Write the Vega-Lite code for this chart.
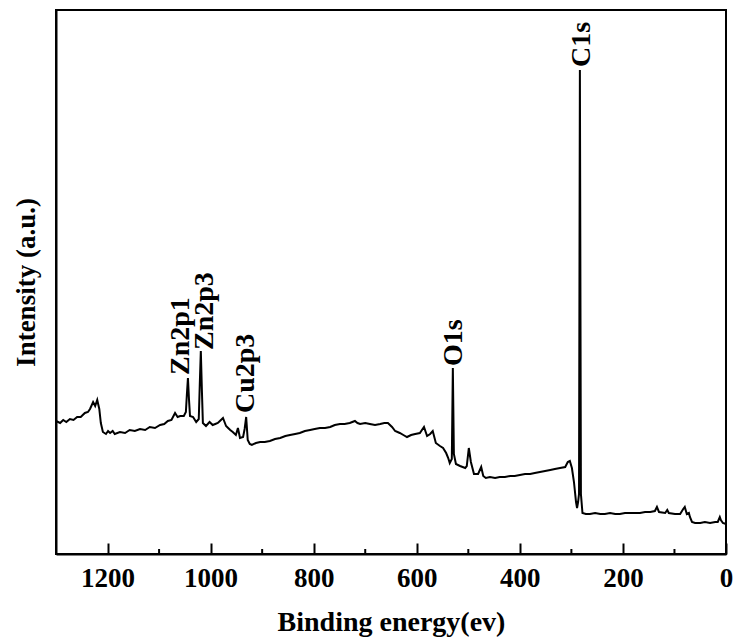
{
  "$schema": "https://vega.github.io/schema/vega-lite/v6.json",
  "width": 670,
  "height": 544,
  "autosize": "none",
  "padding": {"left": 56, "top": 10, "right": 8, "bottom": 86},
  "config": {
    "view": {"stroke": "black", "strokeWidth": 2},
    "axis": {"domainColor": "black", "domainWidth": 2, "tickColor": "black", "tickWidth": 2, "grid": false,
      "labelFont": "Liberation Serif", "labelFontWeight": "bold", "labelColor": "black",
      "titleFont": "Liberation Serif", "titleFontWeight": "bold", "titleColor": "black"}
  },
  "datasets": {
    "spectrum": [
      {"be": 1300, "i": 133}, {"be": 1292, "i": 131}, {"be": 1286, "i": 134}, {"be": 1280, "i": 132}, {"be": 1273, "i": 135},
      {"be": 1266, "i": 134}, {"be": 1259, "i": 137}, {"be": 1252, "i": 137}, {"be": 1244, "i": 141}, {"be": 1238, "i": 142},
      {"be": 1234, "i": 145}, {"be": 1228, "i": 152}, {"be": 1224, "i": 148}, {"be": 1220, "i": 154}, {"be": 1216, "i": 145},
      {"be": 1213, "i": 131}, {"be": 1209, "i": 122}, {"be": 1203, "i": 120}, {"be": 1199, "i": 123}, {"be": 1195, "i": 121},
      {"be": 1190, "i": 123}, {"be": 1186, "i": 120}, {"be": 1176, "i": 122}, {"be": 1166, "i": 121}, {"be": 1157, "i": 124},
      {"be": 1147, "i": 123}, {"be": 1137, "i": 125}, {"be": 1127, "i": 124}, {"be": 1118, "i": 127}, {"be": 1108, "i": 126},
      {"be": 1098, "i": 129}, {"be": 1090, "i": 130}, {"be": 1083, "i": 133}, {"be": 1076, "i": 134}, {"be": 1069, "i": 141},
      {"be": 1064, "i": 137}, {"be": 1059, "i": 138}, {"be": 1052, "i": 138}, {"be": 1048, "i": 142}, {"be": 1046, "i": 160},
      {"be": 1044, "i": 176}, {"be": 1042, "i": 155}, {"be": 1040, "i": 138}, {"be": 1034, "i": 137}, {"be": 1028, "i": 132},
      {"be": 1023, "i": 135}, {"be": 1021, "i": 170}, {"be": 1019, "i": 203}, {"be": 1017, "i": 165}, {"be": 1015, "i": 131},
      {"be": 1009, "i": 128}, {"be": 1002, "i": 132}, {"be": 996, "i": 129}, {"be": 991, "i": 130}, {"be": 986, "i": 131},
      {"be": 982, "i": 133}, {"be": 976, "i": 136}, {"be": 970, "i": 128}, {"be": 966, "i": 126}, {"be": 962, "i": 124},
      {"be": 957, "i": 122}, {"be": 951, "i": 119}, {"be": 947, "i": 126}, {"be": 943, "i": 116}, {"be": 937, "i": 117},
      {"be": 934, "i": 125}, {"be": 931, "i": 137}, {"be": 928, "i": 114}, {"be": 924, "i": 110}, {"be": 920, "i": 109},
      {"be": 912, "i": 111}, {"be": 904, "i": 112}, {"be": 895, "i": 112}, {"be": 885, "i": 113}, {"be": 875, "i": 115},
      {"be": 865, "i": 116}, {"be": 855, "i": 118}, {"be": 846, "i": 119}, {"be": 836, "i": 120}, {"be": 827, "i": 121},
      {"be": 817, "i": 123}, {"be": 807, "i": 124}, {"be": 798, "i": 125}, {"be": 788, "i": 126}, {"be": 778, "i": 126},
      {"be": 768, "i": 127}, {"be": 759, "i": 129}, {"be": 749, "i": 130}, {"be": 740, "i": 130}, {"be": 730, "i": 131},
      {"be": 720, "i": 133}, {"be": 715, "i": 131}, {"be": 710, "i": 130}, {"be": 700, "i": 131}, {"be": 691, "i": 130},
      {"be": 681, "i": 129}, {"be": 671, "i": 130}, {"be": 663, "i": 131}, {"be": 656, "i": 131}, {"be": 648, "i": 127},
      {"be": 642, "i": 123}, {"be": 633, "i": 121}, {"be": 626, "i": 119}, {"be": 619, "i": 117}, {"be": 611, "i": 119},
      {"be": 603, "i": 120}, {"be": 594, "i": 121}, {"be": 586, "i": 127}, {"be": 580, "i": 118}, {"be": 574, "i": 120},
      {"be": 569, "i": 123}, {"be": 563, "i": 111}, {"be": 555, "i": 108}, {"be": 549, "i": 106}, {"be": 543, "i": 101},
      {"be": 539, "i": 96}, {"be": 536, "i": 91}, {"be": 532, "i": 95}, {"be": 530, "i": 186}, {"be": 528, "i": 100},
      {"be": 524, "i": 90}, {"be": 516, "i": 88}, {"be": 506, "i": 86}, {"be": 503, "i": 88}, {"be": 499, "i": 106},
      {"be": 495, "i": 92}, {"be": 489, "i": 80}, {"be": 481, "i": 80}, {"be": 475, "i": 87}, {"be": 471, "i": 78},
      {"be": 466, "i": 76}, {"be": 458, "i": 77}, {"be": 448, "i": 76}, {"be": 439, "i": 77}, {"be": 429, "i": 77},
      {"be": 419, "i": 78}, {"be": 410, "i": 78}, {"be": 400, "i": 79}, {"be": 390, "i": 80}, {"be": 380, "i": 80},
      {"be": 371, "i": 81}, {"be": 361, "i": 82}, {"be": 351, "i": 83}, {"be": 341, "i": 84}, {"be": 332, "i": 85},
      {"be": 322, "i": 86}, {"be": 312, "i": 87}, {"be": 307, "i": 92}, {"be": 303, "i": 93}, {"be": 299, "i": 86},
      {"be": 295, "i": 72}, {"be": 291, "i": 52}, {"be": 289, "i": 46}, {"be": 287, "i": 52}, {"be": 285.2, "i": 60},
      {"be": 283.5, "i": 484}, {"be": 281.5, "i": 60}, {"be": 278.5, "i": 41}, {"be": 272, "i": 40}, {"be": 264, "i": 40},
      {"be": 254, "i": 41}, {"be": 244, "i": 40}, {"be": 235, "i": 40}, {"be": 225, "i": 41}, {"be": 215, "i": 40},
      {"be": 206, "i": 40}, {"be": 196, "i": 41}, {"be": 186, "i": 41}, {"be": 177, "i": 41}, {"be": 167, "i": 41},
      {"be": 157, "i": 42}, {"be": 147, "i": 42}, {"be": 138, "i": 43}, {"be": 134, "i": 47}, {"be": 130, "i": 42},
      {"be": 118, "i": 41}, {"be": 114, "i": 44}, {"be": 111, "i": 41}, {"be": 99, "i": 40}, {"be": 89, "i": 40},
      {"be": 83, "i": 45}, {"be": 80, "i": 47}, {"be": 76, "i": 40}, {"be": 72, "i": 41}, {"be": 70, "i": 37},
      {"be": 66, "i": 32}, {"be": 60, "i": 31}, {"be": 50, "i": 31}, {"be": 41, "i": 32}, {"be": 31, "i": 31},
      {"be": 21, "i": 32}, {"be": 16, "i": 32}, {"be": 12, "i": 37}, {"be": 10, "i": 34}, {"be": 6, "i": 31},
      {"be": 0, "i": 30}
    ],
    "peaks": [
      {"be": 1057, "i": 179, "label": "Zn2p1"},
      {"be": 1011, "i": 204, "label": "Zn2p3"},
      {"be": 931, "i": 141, "label": "Cu2p3"},
      {"be": 528, "i": 188, "label": "O1s"},
      {"be": 279, "i": 487, "label": "C1s"}
    ],
    "minor": [
      {"be": 1100, "lo": 0, "hi": 5}, {"be": 900, "lo": 0, "hi": 5}, {"be": 700, "lo": 0, "hi": 5},
      {"be": 500, "lo": 0, "hi": 5}, {"be": 300, "lo": 0, "hi": 5}, {"be": 100, "lo": 0, "hi": 5}
    ]
  },
  "layer": [
    {
      "data": {"name": "spectrum"},
      "mark": {"type": "line", "color": "black", "strokeWidth": 2},
      "encoding": {
        "x": {"field": "be", "type": "quantitative",
          "scale": {"domain": [0, 1300], "reverse": true, "nice": false, "zero": false},
          "axis": {"title": "Binding energy(ev)", "values": [0, 200, 400, 600, 800, 1000, 1200], "format": "d",
            "tickSize": -11, "labelFlush": false, "labelFontSize": 27, "labelPadding": 22, "titleFontSize": 28, "titlePadding": 17, "labelOverlap": false}},
        "y": {"field": "i", "type": "quantitative",
          "scale": {"domain": [0, 544], "nice": false, "zero": false},
          "axis": {"title": "Intensity (a.u.)", "labels": false, "ticks": false, "titleFontSize": 27, "titlePadding": 16}}
      }
    },
    {
      "data": {"name": "minor"},
      "mark": {"type": "rule", "color": "black", "strokeWidth": 2},
      "encoding": {
        "x": {"field": "be", "type": "quantitative"},
        "y": {"field": "lo", "type": "quantitative"},
        "y2": {"field": "hi"}
      }
    },
    {
      "data": {"name": "peaks"},
      "mark": {"type": "text", "angle": 270, "align": "left", "baseline": "middle", "font": "Liberation Serif", "fontWeight": "bold", "fontSize": 28, "color": "black"},
      "encoding": {
        "x": {"field": "be", "type": "quantitative"},
        "y": {"field": "i", "type": "quantitative"},
        "text": {"field": "label"}
      }
    }
  ]
}
